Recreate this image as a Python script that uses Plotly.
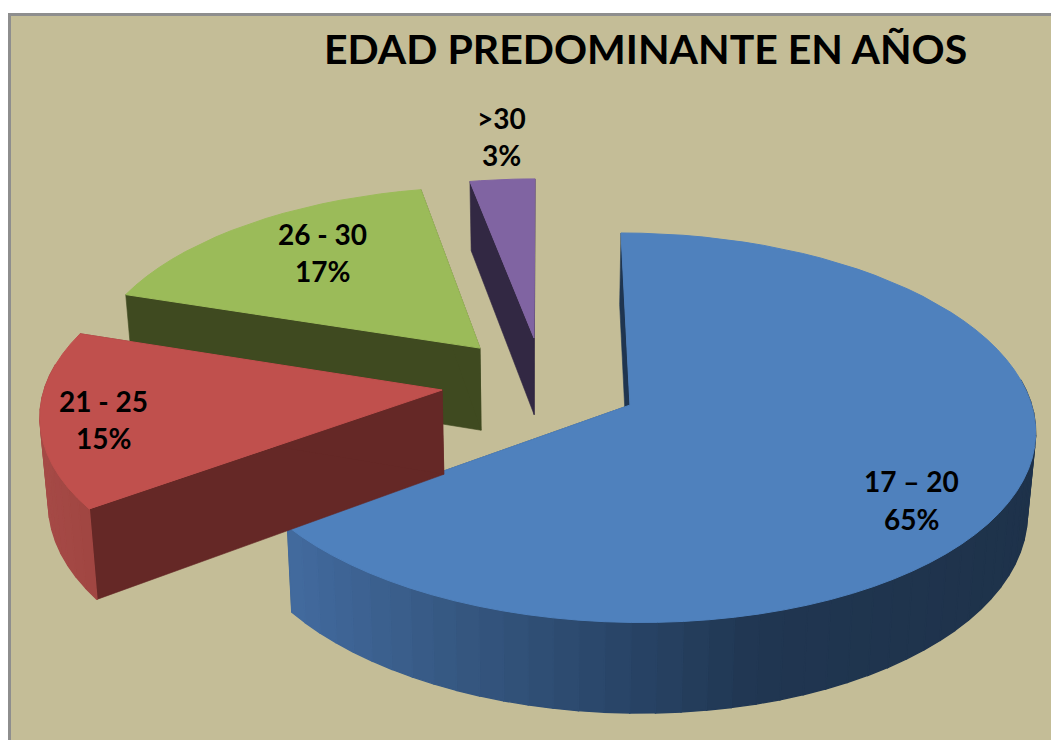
import math
import plotly.graph_objects as go

# ---- data ----
CATEGORIES = ["17 – 20", "21 - 25", "26 - 30", ">30"]
VALUES = [65, 15, 17, 3]
TITLE = "EDAD PREDOMINANTE EN AÑOS"

# ---- style ----
TOP_COLORS = ["#4F81BD", "#C0504D", "#9BBB59", "#8064A2"]
FACE_COLORS = ["#1F3550", "#652826", "#3F4A20", "#322843"]
WALL_STOPS = [
    [(290, (66, 106, 158)), (450, (54, 88, 130)), (620, (41, 69, 104)), (760, (32, 54, 81)), (1040, (30, 50, 74))],
    [(40, (165, 74, 70)), (100, (160, 68, 65))],
    [(100, (110, 135, 60)), (400, (110, 135, 60))],
    [(470, (90, 70, 115)), (540, (90, 70, 115))],
]
BG = "#C4BD97"

# ---- projection of the tilted pie (disc coordinates -> picture pixels) ----
CX, CY, RX, RY, PERSP = 544.0, 383.8, 396.5, 187.2, 0.115
DEPTHS = [79.0, 84.0, 84.0, 79.0]
DEPTH_SHRINK = 0.983
# explosion of every slice in disc coordinates
OFFSETS = [(0.214, -0.112), (-0.256, -0.033), (-0.165, 0.195), (-0.026, 0.252)]
DRAW_ORDER = [0, 3, 2, 1]


def project(u, v, depth=0.0):
    s = 1.0 / (1.0 + PERSP * v)
    x = RX * u * s
    y = CY - RY * v * s
    if depth:
        x *= DEPTH_SHRINK
        y += depth * s
    return CX + x, y


def lerp_color(stops, x):
    if x <= stops[0][0]:
        c = stops[0][1]
    elif x >= stops[-1][0]:
        c = stops[-1][1]
    else:
        for (x0, c0), (x1, c1) in zip(stops, stops[1:]):
            if x0 <= x <= x1:
                t = (x - x0) / (x1 - x0)
                c = tuple(a + (b - a) * t for a, b in zip(c0, c1))
                break
    return "rgb(%d,%d,%d)" % tuple(round(a) for a in c)


fig = go.Figure()


def poly(points, color, width=0.6):
    xs = [p[0] for p in points] + [points[0][0]]
    ys = [p[1] for p in points] + [points[0][1]]
    fig.add_trace(go.Scatter(x=xs, y=ys, mode="lines", fill="toself", fillcolor=color,
                             line=dict(color=color, width=width), hoverinfo="skip", showlegend=False))


total = sum(VALUES)
spans = []
acc = 0.0
for val in VALUES:
    a0 = acc / total * 2 * math.pi
    acc += val
    spans.append((a0, acc / total * 2 * math.pi))

for i in DRAW_ORDER:
    a0, a1 = spans[i]
    u0, v0 = OFFSETS[i]
    d = DEPTHS[i]
    n = max(6, int((a1 - a0) / (2 * math.pi) * 110))
    angles = [a0 + (a1 - a0) * k / n for k in range(n + 1)]
    rim = [(u0 + math.sin(a), v0 + math.cos(a)) for a in angles]
    apex = (u0, v0)
    # radial faces
    for edge in (rim[0], rim[-1]):
        poly([project(*edge), project(*apex), project(*apex, depth=d), project(*edge, depth=d)], FACE_COLORS[i])
    # outer wall, only the part that faces the viewer, in small bands for the shading
    for k, (p, q) in enumerate(zip(rim, rim[1:])):
        mid = (angles[k] + angles[k + 1]) / 2
        if math.cos(mid) > 0.12:
            continue
        pa, pb = project(*p), project(*q)
        poly([pa, pb, project(*q, depth=d), project(*p, depth=d)],
             lerp_color(WALL_STOPS[i], (pa[0] + pb[0]) / 2), width=1.4)
    # top face
    poly([project(*apex)] + [project(*p) for p in rim], TOP_COLORS[i], width=1)

LABEL_POS = [(911, 481, 519), (103, 401, 438), (322, 234, 271), (501, 118, 155)]
annotations = [dict(x=645, y=48, text="<b>%s</b>" % TITLE, showarrow=False, xref="x", yref="y",
                    font=dict(family="Lato", size=41, color="#000000"))]
for cat, val, (lx, ly1, ly2) in zip(CATEGORIES, VALUES, LABEL_POS):
    annotations.append(dict(x=lx, y=ly1, text="<b>%s</b>" % cat, showarrow=False,
                            font=dict(family="Lato", size=28, color="#000000")))
    annotations.append(dict(x=lx, y=ly2, text="<b>%d%%</b>" % val, showarrow=False,
                            font=dict(family="Lato", size=28, color="#000000")))

fig.update_layout(
    width=1051, height=740, margin=dict(l=0, r=0, t=0, b=0),
    paper_bgcolor="#FFFFFF", plot_bgcolor="#FFFFFF", showlegend=False,
    xaxis=dict(range=[0, 1051], visible=False, fixedrange=True),
    yaxis=dict(range=[740, 0], visible=False, fixedrange=True),
    shapes=[dict(type="rect", xref="x", yref="y", x0=9.5, y0=14.5, x1=1070, y1=760,
                 fillcolor=BG, line=dict(color="#8E8E8E", width=3), layer="below")],
    annotations=annotations,
)
fig.write_html("out.html", config={"displayModeBar": False},
               post_script="document.body.style.margin='0';document.documentElement.style.overflow='hidden';")
